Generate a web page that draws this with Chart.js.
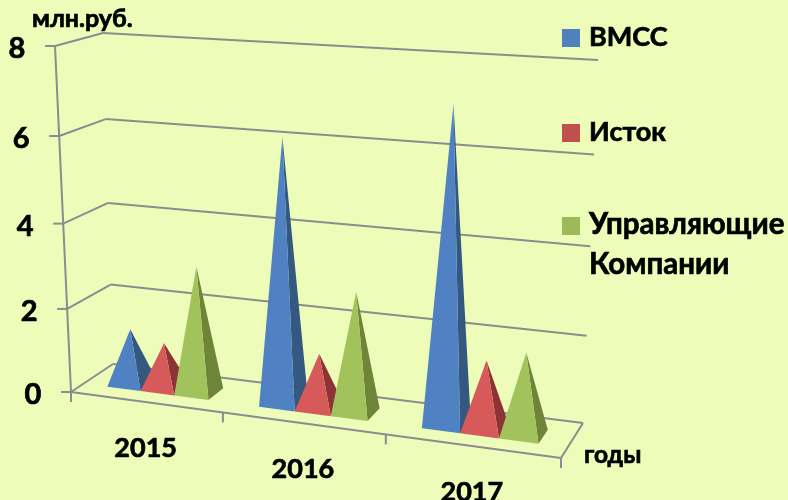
<!DOCTYPE html>
<html lang="ru">

<head>
    <meta charset="UTF-8">
    <title>Pyramids</title>
    <script src="https://cdn.jsdelivr.net/npm/chart.js"></script>
    <style>
        html, body {
            margin: 0;
            padding: 0;
            background: #EDFDB9;
            overflow: hidden;
        }

        canvas {
            display: block;
        }
    </style>
</head>

<body>
    <canvas id="pyramids" width="788" height="500"></canvas>

    <script>
        const years = ['2015', '2016', '2017'];
        const vmss = [1.32, 6.13, 7.1];
        const istok = [1.08, 1.27, 1.57];
        const companies = [3.0, 2.8, 1.85];
        const valueTicks = [0, 2, 4, 6, 8];
        const seriesNames = ['ВМСС', 'Исток', 'Управляющие Компании'];

        const FAMILY = 'Lato, "Noto Sans", sans-serif';
        const GRID = '#8B8B90';

        // corners of the box as the 3D view shows it: front plane, then back wall
        const frontBottom = [[71, 392], [561, 458]];
        const frontTop = [[55, 46], [577, 78]];
        const backBottom = [[113, 364], [583, 423]];
        const backTop = [[103, 33], [598, 60]];
        const PERSPECTIVE_U = 1.113;
        const PERSPECTIVE_H = 1.055;

        const lerp = (a, b, t) => [a[0] + (b[0] - a[0]) * t, a[1] + (b[1] - a[1]) * t];

        // u: 0..1 along the category axis, h: 0..1 up the value axis, d: 0..1 into the picture
        function project(u, h, d) {
            const s = u / (u + PERSPECTIVE_U * (1 - u));
            const t = h / (h + PERSPECTIVE_H * (1 - h));
            const front = lerp(lerp(frontBottom[0], frontBottom[1], s), lerp(frontTop[0], frontTop[1], s), t);
            const back = lerp(lerp(backBottom[0], backBottom[1], s), lerp(backTop[0], backTop[1], s), t);
            return lerp(front, back, d);
        }

        function line(ctx, a, b) {
            ctx.beginPath();
            ctx.moveTo(a[0], a[1]);
            ctx.lineTo(b[0], b[1]);
            ctx.stroke();
        }

        function face(ctx, points, color) {
            ctx.fillStyle = color;
            ctx.beginPath();
            points.forEach((p, i) => i ? ctx.lineTo(p[0], p[1]) : ctx.moveTo(p[0], p[1]));
            ctx.closePath();
            ctx.fill();
        }

        // thin stroke on top of the fill, the reference type is heavier than Lato Bold
        function label(ctx, text, x, y, size) {
            ctx.font = 'bold ' + size + 'px ' + FAMILY;
            ctx.fillText(text, x, y);
            ctx.strokeText(text, x, y);
        }

        const pyramidPlugin = {
            id: 'pyramids',
            beforeDatasetsDraw(chart) {
                const ctx = chart.ctx;
                const area = chart.chartArea;
                const yScale = chart.scales.y;
                const xScale = chart.scales.x;
                const toU = px => (px - area.left) / (area.right - area.left);
                const toH = px => (area.bottom - px) / (area.bottom - area.top);

                // walls and floor
                ctx.save();
                ctx.strokeStyle = GRID;
                ctx.lineWidth = 2;
                valueTicks.forEach(v => {
                    const h = toH(yScale.getPixelForValue(v));
                    const a = project(0, h, 0);
                    line(ctx, [a[0] - 10, a[1]], a);
                    line(ctx, a, project(0, h, 1));
                    line(ctx, project(0, h, 1), project(1, h, 1));
                });
                line(ctx, project(0, 1, 0), project(0, 0, 0));
                line(ctx, project(0, 0, 0), project(1, 0, 0));
                line(ctx, project(1, 0, 0), project(1, 0, 1));
                for (let i = 0; i <= years.length; i++) {
                    const p = project(i / years.length, 0, 0);
                    line(ctx, p, [p[0], p[1] + 10]);
                }
                ctx.restore();

                // pyramids, one group after another so nearer ones overlap
                years.forEach((year, i) => {
                    chart.data.datasets.forEach((ds, k) => {
                        const bar = chart.getDatasetMeta(k).data[i];
                        const u0 = toU(bar.x - bar.width / 2);
                        const u1 = toU(bar.x + bar.width / 2);
                        const top = project(toU(bar.x), toH(bar.y), 0.5);
                        const frontL = project(u0, 0, 0.3);
                        const frontR = project(u1, 0, 0.3);
                        const backR = project(u1, 0, 0.7);
                        face(ctx, [frontR, backR, top], ds.sideColor);
                        face(ctx, [frontL, frontR, top], ds.frontColor);
                    });
                });

                // text
                ctx.save();
                ctx.fillStyle = '#000';
                ctx.strokeStyle = '#000';
                ctx.lineWidth = 0.7;
                ctx.textAlign = 'center';
                ctx.textBaseline = 'alphabetic';
                valueTicks.forEach(v => {
                    const a = project(0, toH(yScale.getPixelForValue(v)), 0);
                    label(ctx, String(v), a[0] - 38, a[1] + 12, 29);
                });
                years.forEach((year, i) => {
                    const p = project(toU(xScale.getPixelForValue(i)), 0, 0);
                    label(ctx, year, p[0], p[1] + 55, 27);
                });
                ctx.textAlign = 'left';
                label(ctx, 'млн.руб.', 32, 27, 25);
                label(ctx, 'годы', 584, 463, 24.5);

                const legendY = [46, 141, 234];
                const legendSize = [27, 27, 29.5];
                chart.data.datasets.forEach((ds, k) => {
                    ctx.fillStyle = ds.backgroundColor;
                    ctx.fillRect(562, legendY[k] - 17, 18, 18);
                    ctx.fillStyle = '#000';
                    ds.label.split(' ').forEach((w, n) => label(ctx, w, 589, legendY[k] + n * 40, legendSize[k]));
                });
                ctx.restore();
                return false;
            }
        };

        new Chart(document.getElementById('pyramids'), {
            type: 'bar',
            data: {
                labels: years,
                datasets: [
                    { label: seriesNames[0], data: vmss, backgroundColor: '#4F81BD', frontColor: '#4F81C3', sideColor: '#34587F' },
                    { label: seriesNames[1], data: istok, backgroundColor: '#C0504D', frontColor: '#D65A5A', sideColor: '#8E3335' },
                    { label: seriesNames[2], data: companies, backgroundColor: '#9BBB59', frontColor: '#A2C35C', sideColor: '#6E8539' }
                ]
            },
            options: {
                responsive: false,
                animation: false,
                layout: { padding: { left: 71, right: 227, top: 46, bottom: 108 } },
                datasets: { bar: { categoryPercentage: 0.674, barPercentage: 1 } },
                scales: {
                    x: { display: false },
                    y: { display: false, min: 0, max: 8 }
                },
                plugins: { legend: { display: false }, tooltip: { enabled: false } }
            },
            plugins: [pyramidPlugin]
        });
    </script>
</body>

</html>
